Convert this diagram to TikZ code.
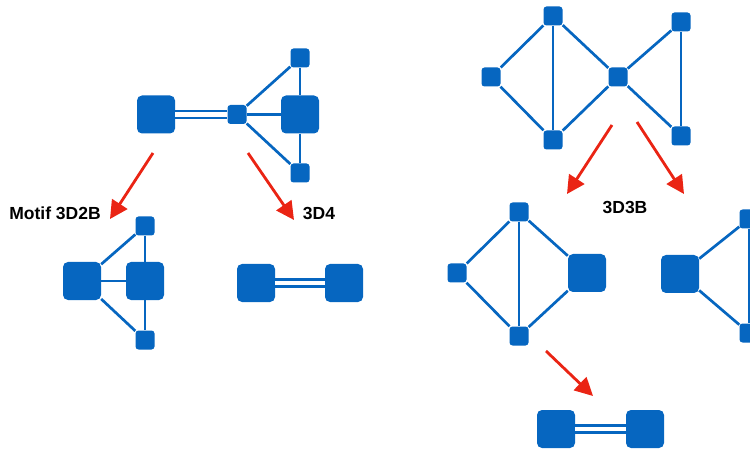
\documentclass[tikz,border=0pt]{standalone}
\usepackage{fontspec}
\setmainfont{Liberation Sans}
\usetikzlibrary{arrows.meta}
\definecolor{nodeblue}{RGB}{6,102,192}
\definecolor{arrred}{RGB}{234,36,20}
\tikzset{
  big/.style={fill=nodeblue, minimum size=38pt, inner sep=0pt, rounded corners=5pt},
  small/.style={fill=nodeblue, minimum size=19pt, inner sep=0pt, rounded corners=3pt},
  edge/.style={draw=nodeblue, line width=2.7pt},
  dbl/.style={draw=nodeblue, line width=2.3pt, double=white, double distance=4.6pt},
  redarr/.style={draw=arrred, line width=2.8pt, -{Triangle[length=18pt,width=18pt]}},
  lbl/.style={font=\fontsize{17.5}{20}\selectfont\bfseries, inner sep=0pt}
}
\begin{document}
\begin{tikzpicture}[x=1pt,y=-1pt]
\useasboundingbox (0,0) rectangle (750,449);
% top-left group
\node[big] (A) at (156,114.5) {};
\node[small] (B) at (237,114.5) {};
\node[big] (C) at (300,114.5) {};
\node[small] (D) at (300,58) {};
\node[small] (E) at (300,173) {};
\draw[dbl] (A) -- (B);
\draw[edge] (B) -- (D);
\draw[edge] (B) -- (C);
\draw[edge] (B) -- (E);
\draw[edge] (D) -- (C);
\draw[edge] (C) -- (E);
% arrows from top-left
\coordinate (a1s) at (153,153);
\coordinate (a1e) at (110,219);
\coordinate (a2s) at (248,153);
\coordinate (a2e) at (294,220);
\draw[redarr] (a1s) -- (a1e);
\draw[redarr] (a2s) -- (a2e);
\node[lbl] (l1) at (55,213) {Motif 3D2B};
\node[lbl] (l2) at (319,213) {3D4};
% 3D2B motif
\node[big] (F) at (82,281) {};
\node[big] (G) at (145,281) {};
\node[small] (H) at (145,226) {};
\node[small] (I) at (145,340) {};
\draw[edge] (F) -- (H);
\draw[edge] (F) -- (G);
\draw[edge] (F) -- (I);
\draw[edge] (H) -- (G);
\draw[edge] (G) -- (I);
% 3D4
\node[big] (J) at (256,283) {};
\node[big] (K) at (344,283) {};
\draw[dbl] (J) -- (K);
% top-right group
\node[small] (L) at (491,77) {};
\node[small] (M) at (553,16) {};
\node[small] (N) at (553,140) {};
\node[small] (O) at (618,77) {};
\node[small] (P) at (681,22) {};
\node[small] (Q) at (681,136) {};
\draw[edge] (L) -- (M);
\draw[edge] (L) -- (N);
\draw[edge] (M) -- (N);
\draw[edge] (M) -- (O);
\draw[edge] (N) -- (O);
\draw[edge] (O) -- (P);
\draw[edge] (O) -- (Q);
\draw[edge] (P) -- (Q);
\coordinate (a3s) at (612,125);
\coordinate (a3e) at (567,194);
\coordinate (a4s) at (637,122);
\coordinate (a4e) at (684,194);
\draw[redarr] (a3s) -- (a3e);
\draw[redarr] (a4s) -- (a4e);
\node[lbl] (l3) at (625,207) {3D3B};
% bottom-right left motif
\node[small] (R) at (519,212) {};
\node[small] (S) at (457,273) {};
\node[small] (T) at (519,336) {};
\node[big] (U) at (587,273) {};
\draw[edge] (S) -- (R);
\draw[edge] (S) -- (T);
\draw[edge] (R) -- (T);
\draw[edge] (R) -- (U);
\draw[edge] (T) -- (U);
% bottom-right right motif (cut off)
\node[big] (V) at (680,274) {};
\node[small] (W) at (749,219) {};
\node[small] (X) at (749,333) {};
\draw[edge] (V) -- (W);
\draw[edge] (V) -- (X);
\draw[edge] (W) -- (X);
% arrow down
\coordinate (a5s) at (546,351);
\coordinate (a5e) at (593,396);
\draw[redarr] (a5s) -- (a5e);
% bottom 3D4
\node[big] (Y) at (556,429) {};
\node[big] (Z) at (645,429) {};
\draw[dbl] (Y) -- (Z);
\end{tikzpicture}
\end{document}
